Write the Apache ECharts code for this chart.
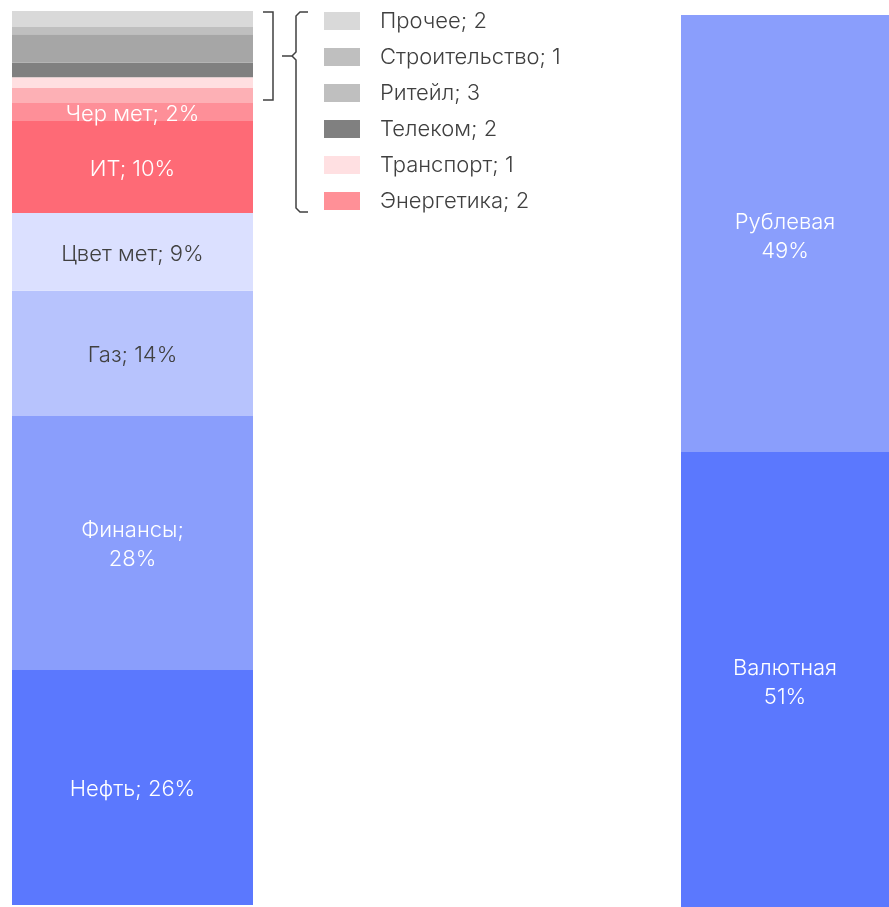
<!DOCTYPE html>
<html>
<head>
<meta charset="utf-8">
<script src="https://cdn.jsdelivr.net/npm/echarts@6/dist/echarts.min.js"></script>
<style>
html,body{margin:0;padding:0;background:#fff;}
#chart{width:889px;height:907px;}
</style>
</head>
<body>
<div id="chart"></div>
<script>
// отрасли, снизу вверх
var sectors = ['Нефть','Финансы','Газ','Цвет мет','ИТ','Чер мет','Энергетика','Транспорт','Телеком','Ритейл','Строительство','Прочее'];
var sectorShare = [26.3, 28.4, 14, 8.7, 10.3, 2.0, 1.7, 1.2, 1.6, 3.2, 0.8, 1.8];
var sectorColors = ['#5b78fe','#8a9efc','#b7c3fd','#dbe0ff','#fe6a76','#fe8f98','#fdb0b5','#ffdfe1','#808080','#a6a6a6','#bfbfbf','#d9d9d9'];
var sectorLabelColor = ['#fff','#fff','#404040','#404040','#fff','#fff'];
var sectorWrap = ['Финансы'];

// мелкие отрасли в легенде
var smallSectors = ['Прочее','Строительство','Ритейл','Телеком','Транспорт','Энергетика'];
var smallCounts = [2, 1, 3, 2, 1, 2];
var smallColors = ['#d9d9d9','#bfbfbf','#bfbfbf','#808080','#ffe0e2','#ff9097'];

// валюта
var currency = ['Валютная','Рублевая'];
var currencyShare = [51, 49];
var currencyColors = ['#5b78fe','#8a9efc'];

var FONT = 'Inter';
var charts = echarts.init(document.getElementById('chart'));

var Series = [];
for (var i = 0; i < sectors.length; i++) {
	var showLabel = i < sectorLabelColor.length;
	Series.push({
		name: sectors[i],
		type: 'bar',
		stack: 'sector',
		xAxisIndex: 0,
		yAxisIndex: 0,
		barWidth: '100%',
		data: [sectorShare[i]],
		itemStyle: {color: sectorColors[i]},
		label: {
			show: showLabel,
			position: 'inside',
			offset: [0, 2],
			color: showLabel ? sectorLabelColor[i] : '#fff',
			fontFamily: FONT,
			fontWeight: 300,
			fontSize: 22,
			lineHeight: 29,
			formatter: function(p){
				var sep = sectorWrap.indexOf(p.seriesName) >= 0 ? ';\n' : '; ';
				return p.seriesName + sep + Math.round(p.value) + '%';
			}
		}
	});
}
for (var j = 0; j < currency.length; j++) {
	Series.push({
		name: currency[j],
		type: 'bar',
		stack: 'cur',
		xAxisIndex: 1,
		yAxisIndex: 1,
		barWidth: '100%',
		data: [currencyShare[j]],
		itemStyle: {color: currencyColors[j]},
		label: {
			show: true,
			position: 'inside',
			offset: [0, 3],
			color: '#fff',
			fontFamily: FONT,
			fontWeight: 300,
			fontSize: 22,
			lineHeight: 29,
			formatter: function(p){ return p.seriesName + '\n' + p.value + '%'; }
		}
	});
}

var legendData = [];
for (var k = 0; k < smallSectors.length; k++) {
	legendData.push({name: smallSectors[k], itemStyle: {color: smallColors[k]}});
}

option = {
	animation: false,
	grid: [
		{left: 12, width: 241, top: 11, height: 894},
		{left: 681, width: 208, top: 15, height: 892}
	],
	xAxis: [
		{type: 'category', gridIndex: 0, data: ['sector'], show: false},
		{type: 'category', gridIndex: 1, data: ['cur'], show: false}
	],
	yAxis: [
		{type: 'value', gridIndex: 0, min: 0, max: 100, show: false},
		{type: 'value', gridIndex: 1, min: 0, max: 100, show: false}
	],
	legend: {
		orient: 'vertical',
		left: 324,
		top: 10,
		padding: 0,
		icon: 'rect',
		itemWidth: 36,
		itemHeight: 18,
		itemGap: 14,
		selectedMode: false,
		data: legendData,
		formatter: function(name){
			return name + '; ' + smallCounts[smallSectors.indexOf(name)];
		},
		textStyle: {
			fontFamily: FONT,
			fontWeight: 300,
			fontSize: 22,
			color: '#404040',
			padding: [0, 0, 0, 15]
		}
	},
	graphic: [
		{
			type: 'polyline',
			shape: {points: [[263,12],[273,12],[273,100],[263,100]]},
			style: {stroke: '#404040', lineWidth: 1.5, fill: null}
		},
		{
			type: 'polyline',
			shape: {points: [[308,12],[300,12],[296,16],[296,52],[292,56],[282,56]]},
			style: {stroke: '#404040', lineWidth: 1.5, fill: null}
		},
		{
			type: 'polyline',
			shape: {points: [[292,56],[296,60],[296,208],[300,212],[308,212]]},
			style: {stroke: '#404040', lineWidth: 1.5, fill: null}
		}
	],
	series: Series
};
charts.setOption(option);
</script>
</body>
</html>
